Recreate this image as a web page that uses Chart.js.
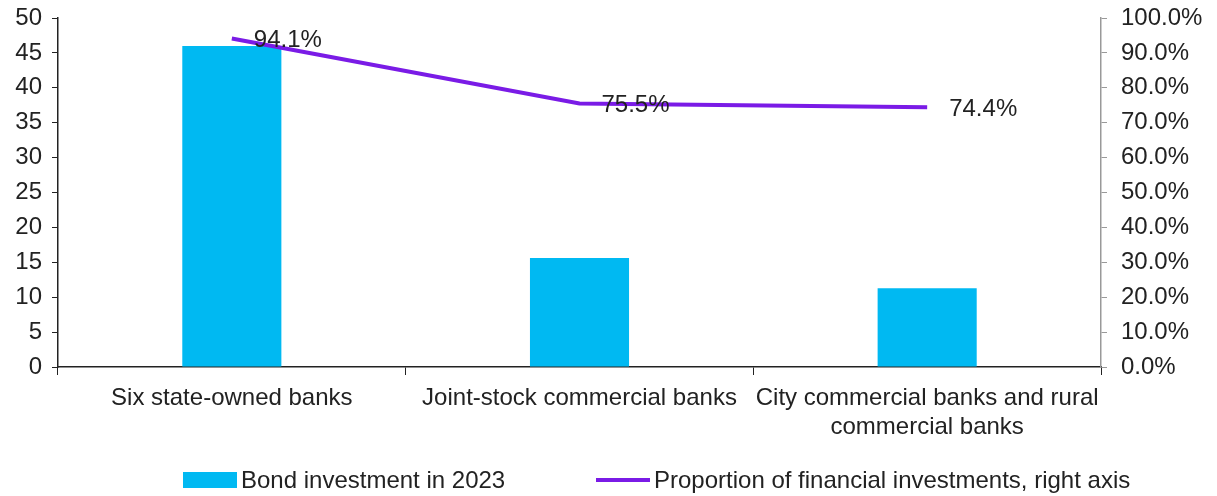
<!DOCTYPE html>
<html>
<head>
<meta charset="utf-8">
<script src="https://cdn.jsdelivr.net/npm/chart.js@4.4.1/dist/chart.umd.min.js"></script>
<style>
  html, body { margin: 0; padding: 0; background: #fff; }
  #wrap { position: relative; width: 1217px; height: 496px; }
</style>
</head>
<body>
<div id="wrap"><canvas id="chart_bondInvestment"></canvas></div>
<script>
var categories = [
    'Six state-owned banks',
    'Joint-stock commercial banks',
    ['City commercial banks and rural', 'commercial banks']
];
var bondInvestment2023 = [46.0, 15.6, 11.3];
var financialInvestmentShare = [94.1, 75.5, 74.4];
var leftTicks = [0, 5, 10, 15, 20, 25, 30, 35, 40, 45, 50];
var rightTicks = [0, 10, 20, 30, 40, 50, 60, 70, 80, 90, 100];

var FONT = "'Liberation Sans', Arial, sans-serif";
Chart.defaults.font.family = FONT;
Chart.defaults.font.size = 24;
Chart.defaults.color = '#222';

// legend placement (left edge of each item, vertical centre)
var legendItemX = [183, 596];
var legendY = 480;

function fitYAxis(width) {
    return function (axis) {
        axis.width = width;
        axis.paddingTop = 18;
        axis.paddingBottom = 0;
    };
}

var chart_bondInvestment = new Chart(document.getElementById('chart_bondInvestment'), {
    type: 'bar',
    data: {
        labels: categories,
        datasets: [
            {
                label: 'Bond investment in 2023',
                data: bondInvestment2023,
                backgroundColor: '#00B9F2',
                borderWidth: 0,
                barPercentage: 0.285,
                categoryPercentage: 1,
                yAxisID: 'y',
                order: 2
            },
            {
                type: 'line',
                label: 'Proportion of financial investments, right axis',
                data: financialInvestmentShare,
                borderColor: '#7A1BE6',
                backgroundColor: '#7A1BE6',
                borderWidth: 4,
                pointRadius: 0,
                tension: 0,
                yAxisID: 'y1',
                order: 1
            }
        ]
    },
    options: {
        animation: false,
        responsive: true,
        maintainAspectRatio: false,
        layout: {
            padding: 0
        },
        plugins: {
            legend: { display: false },
            tooltip: { enabled: false }
        },
        scales: {
            x: {
                grid: {
                    drawOnChartArea: false,
                    tickLength: 8,
                    color: '#222'
                },
                border: { color: '#222', width: 1.5 },
                ticks: {
                    maxRotation: 0,
                    padding: 9,
                    font: { size: 24, lineHeight: 1.2 }
                },
                afterFit: function (axis) { axis.height = 129; }
            },
            y: {
                position: 'left',
                min: 0,
                max: 50,
                afterBuildTicks: function (axis) {
                    axis.ticks = leftTicks.map(function (v) { return { value: v }; });
                },
                grid: {
                    drawOnChartArea: false,
                    tickLength: 6,
                    color: '#222'
                },
                border: { color: '#222', width: 1.5 },
                ticks: { padding: 10 },
                afterFit: fitYAxis(58)
            },
            y1: {
                position: 'right',
                min: 0,
                max: 100,
                afterBuildTicks: function (axis) {
                    axis.ticks = rightTicks.map(function (v) { return { value: v }; });
                },
                grid: {
                    drawOnChartArea: false,
                    tickLength: 6,
                    color: '#999'
                },
                border: { color: '#999', width: 1.5 },
                ticks: {
                    padding: 14,
                    callback: function (v) { return v.toFixed(1) + '%'; }
                },
                afterFit: fitYAxis(116)
            }
        }
    },
    plugins: [{
        id: 'lineLabels',
        afterDatasetsDraw: function (chart) {
            var ctx = chart.ctx;
            var meta = chart.getDatasetMeta(1);
            ctx.save();
            ctx.font = '24px ' + FONT;
            ctx.fillStyle = '#222';
            ctx.textAlign = 'left';
            ctx.textBaseline = 'middle';
            meta.data.forEach(function (pt, i) {
                ctx.fillText(financialInvestmentShare[i].toFixed(1) + '%', pt.x + 22, pt.y + 2);
            });
            ctx.restore();
        }
    }, {
        id: 'bottomLegend',
        afterDraw: function (chart) {
            var ctx = chart.ctx;
            ctx.save();
            ctx.font = '24px ' + FONT;
            ctx.fillStyle = '#222';
            ctx.textAlign = 'left';
            ctx.textBaseline = 'middle';
            chart.data.datasets.forEach(function (ds, i) {
                var x = legendItemX[i];
                if (ds.type === 'line') {
                    ctx.strokeStyle = ds.borderColor;
                    ctx.lineWidth = ds.borderWidth;
                    ctx.beginPath();
                    ctx.moveTo(x, legendY);
                    ctx.lineTo(x + 54, legendY);
                    ctx.stroke();
                } else {
                    ctx.fillStyle = ds.backgroundColor;
                    ctx.fillRect(x, legendY - 8, 54, 16);
                }
                ctx.fillStyle = '#222';
                ctx.fillText(ds.label, x + 58, legendY + 1);
            });
            ctx.restore();
        }
    }, {
        id: 'whiteBackground',
        beforeDraw: function (chart) {
            var ctx = chart.canvas.getContext('2d');
            ctx.save();
            ctx.globalCompositeOperation = 'destination-over';
            ctx.fillStyle = 'white';
            ctx.fillRect(0, 0, chart.canvas.width, chart.canvas.height);
            ctx.restore();
        }
    }]
});
</script>
</body>
</html>
